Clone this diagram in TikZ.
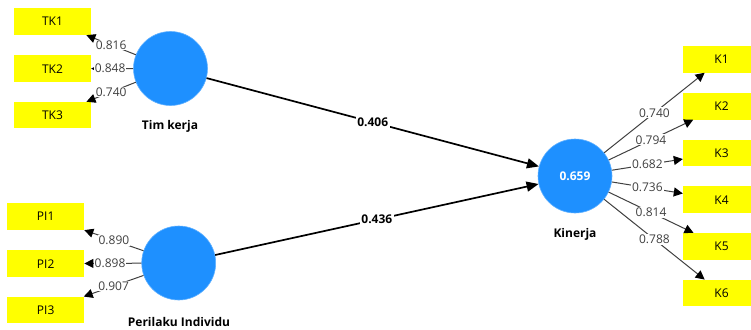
\documentclass[tikz,border=0pt]{standalone}
\usepackage{fontspec}
\setmainfont{Open Sans}
\usetikzlibrary{arrows.meta}
\definecolor{lvblue}{RGB}{30,144,255}
\definecolor{indyel}{RGB}{255,255,0}
\definecolor{lblgray}{RGB}{64,64,64}
\begin{document}
\begin{tikzpicture}[x=1pt,y=-1pt,
  lv/.style={circle,fill=lvblue,draw=lvblue!70!white,line width=0.6pt,minimum size=74pt,inner sep=0pt,text=white,font=\fontsize{12}{14}\selectfont\bfseries},
  ind/.style={rectangle,fill=indyel,minimum width=77pt,minimum height=26.5pt,inner sep=0pt,font=\fontsize{12}{14}\selectfont},
  lvname/.style={font=\fontsize{12}{14}\selectfont\bfseries},
  load/.style={draw=lblgray,line width=1pt,-{Triangle[length=9pt,width=9pt,color=black]}},
  path/.style={draw=black,line width=1.7pt,-{Triangle[length=12pt,width=10pt]}},
  loadlbl/.style={fill=white,inner sep=1pt,text=lblgray,font=\fontsize{12}{14}\selectfont},
  pathlbl/.style={fill=white,inner sep=1.5pt,font=\fontsize{12}{14}\selectfont\bfseries}]
\useasboundingbox (0,0) rectangle (751,329);
% latent variables
\node[lv] (tk) at (170.5,68.5) {};
\node[lv] (pi) at (178.7,263) {};
\node[lv] (kin) at (575,176) {0.659};
\node[lvname] (tkname) at (170,126.7) {Tim kerja};
\node[lvname] (piname) at (179,321.7) {Perilaku Individu};
\node[lvname] (kinname) at (575,234.3) {Kinerja};
% indicators
\node[ind] (TK1) at (52.5,21.7) {TK1};
\node[ind] (TK2) at (52.5,68.7) {TK2};
\node[ind] (TK3) at (52.5,115.2) {TK3};
\node[ind] (PI1) at (45.7,216.7) {PI1};
\node[ind] (PI2) at (45.7,263.7) {PI2};
\node[ind] (PI3) at (45.7,310) {PI3};
\node[ind] (K1) at (721.5,59.3) {K1};
\node[ind] (K2) at (721.5,106.3) {K2};
\node[ind] (K3) at (721.5,153) {K3};
\node[ind] (K4) at (721.5,199.7) {K4};
\node[ind] (K5) at (721.5,246.3) {K5};
\node[ind] (K6) at (721.5,293) {K6};
% outer loadings
\path[load] (tk) -- node[loadlbl,pos=0.5] {0.816} (TK1);
\path[load] (tk) -- node[loadlbl,pos=0.55] {0.848} (TK2);
\path[load] (tk) -- node[loadlbl,pos=0.5] {0.740} (TK3);
\path[load] (pi) -- node[loadlbl,pos=0.5] {0.890} (PI1);
\path[load] (pi) -- node[loadlbl,pos=0.55] {0.898} (PI2);
\path[load] (pi) -- node[loadlbl,pos=0.5] {0.907} (PI3);
\path[load] (kin) -- node[loadlbl,pos=0.5] {0.740} (K1);
\path[load] (kin) -- node[loadlbl,pos=0.5] {0.794} (K2);
\path[load] (kin) -- node[loadlbl,pos=0.5] {0.682} (K3);
\path[load] (kin) -- node[loadlbl,pos=0.5] {0.736} (K4);
\path[load] (kin) -- node[loadlbl,pos=0.5] {0.814} (K5);
\path[load] (kin) -- node[loadlbl,pos=0.5] {0.788} (K6);
% structural paths
\path[path] (tk) -- node[pathlbl,pos=0.5] {0.406} (kin);
\path[path] (pi) -- node[pathlbl,pos=0.5] {0.436} (kin);
\end{tikzpicture}
\end{document}
